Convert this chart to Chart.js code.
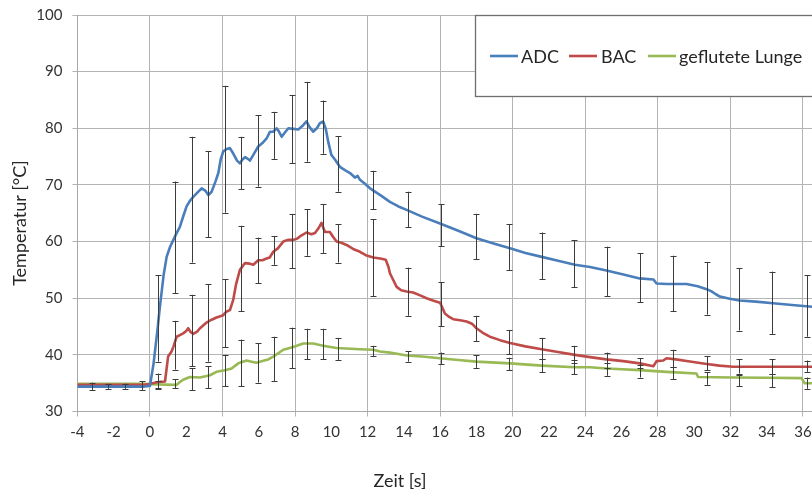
<!DOCTYPE html>
<html>
<head>
<meta charset="utf-8">
<script src="https://cdn.jsdelivr.net/npm/chart.js@4.4.1/dist/chart.umd.min.js"></script>
<style>
  html, body { margin: 0; padding: 0; background: #fff; }
  #wrap { width: 812px; height: 494px; position: relative; }
</style>
</head>
<body>
<div id="wrap"><canvas id="c" width="812" height="494"></canvas></div>
<script>
// Temperature curves (time in s, temperature in °C)
const adcTime = [-4, -2, -0.3, 0, 0.2, 0.4, 0.55, 0.75, 0.92, 1.1, 1.29, 1.47, 1.65, 1.85, 2.02, 2.2, 2.39, 2.6, 2.85, 3.05, 3.22, 3.4, 3.6, 3.77, 3.9, 4.04, 4.2, 4.41, 4.6, 4.8, 4.96, 5.1, 5.24, 5.4, 5.51, 5.7, 5.97, 6.2, 6.43, 6.62, 6.8, 6.98, 7.1, 7.26, 7.45, 7.63, 7.9, 8.18, 8.4, 8.63, 8.8, 9.0, 9.2, 9.37, 9.55, 9.7, 9.83, 10.0, 10.2, 10.47, 10.75, 11.03, 11.3, 11.45, 11.58, 11.85, 12.13, 12.7, 13.23, 13.7, 14.15, 15.0, 15.99, 17.0, 18.0, 18.9, 19.85, 20.7, 21.6, 22.5, 23.43, 24.26, 25.17, 26.1, 27.0, 27.76, 27.93, 28.5, 29.58, 30.2, 30.69, 30.96, 31.2, 31.42, 31.97, 32.5, 33.4, 34.36, 35.4, 36.5];
const adcTemp = [34.4, 34.4, 34.4, 34.5, 38.5, 44.0, 48.5, 54.0, 57.3, 59.0, 60.3, 61.5, 62.6, 64.6, 66.2, 67.2, 67.9, 68.6, 69.4, 69.0, 68.2, 68.8, 70.5, 72.1, 74.5, 75.9, 76.3, 76.5, 75.5, 74.3, 73.8, 74.5, 74.9, 74.6, 74.3, 75.3, 76.8, 77.4, 78.2, 79.4, 79.4, 80.0, 79.5, 78.5, 79.3, 80.0, 79.9, 79.8, 80.4, 81.2, 80.2, 79.4, 80.0, 80.9, 81.2, 79.8, 77.6, 75.3, 74.5, 73.2, 72.6, 72.1, 71.3, 71.6, 70.9, 70.2, 69.4, 68.2, 67.0, 66.2, 65.6, 64.4, 63.2, 61.9, 60.6, 59.7, 58.8, 58.0, 57.3, 56.6, 55.9, 55.5, 54.9, 54.2, 53.5, 53.3, 52.6, 52.5, 52.5, 52.1, 51.6, 51.2, 50.7, 50.3, 49.9, 49.6, 49.4, 49.1, 48.8, 48.5];

const bacTime = [-4, -0.3, 0, 0.5, 0.83, 1.0, 1.19, 1.3, 1.47, 1.65, 1.83, 2.0, 2.11, 2.25, 2.39, 2.6, 2.76, 3.12, 3.4, 3.67, 4.04, 4.2, 4.41, 4.59, 4.75, 4.96, 5.24, 5.5, 5.7, 5.97, 6.2, 6.43, 6.6, 6.8, 7.05, 7.35, 7.6, 7.9, 8.1, 8.27, 8.63, 8.9, 9.1, 9.28, 9.46, 9.55, 9.65, 9.92, 10.1, 10.29, 10.55, 10.84, 11.2, 11.58, 11.9, 12.31, 12.7, 13.0, 13.15, 13.23, 13.4, 13.6, 13.85, 14.15, 14.51, 14.9, 15.25, 15.6, 15.99, 16.1, 16.26, 16.5, 16.72, 17.1, 17.46, 17.75, 18.0, 18.35, 18.74, 19.3, 19.85, 20.7, 21.6, 22.5, 23.43, 24.26, 25.17, 26.1, 27.0, 27.76, 27.93, 28.3, 28.48, 29.0, 29.58, 30.69, 31.4, 32.15, 33.3, 34.36, 35.4, 36.5];
const bacTemp = [34.7, 34.7, 34.9, 35.2, 35.3, 39.7, 40.6, 41.5, 43.2, 43.5, 43.8, 44.2, 44.7, 44.0, 43.7, 44.1, 44.7, 45.7, 46.2, 46.6, 47.0, 47.6, 47.9, 49.7, 52.5, 55.0, 56.2, 56.1, 55.9, 56.7, 56.7, 57.0, 57.2, 58.2, 58.8, 60.0, 60.3, 60.3, 60.5, 60.9, 61.6, 61.3, 61.5, 62.3, 63.3, 62.5, 61.7, 61.7, 60.8, 60.0, 59.8, 59.4, 58.7, 58.2, 57.6, 57.2, 57.0, 56.8, 55.5, 54.4, 53.3, 52.0, 51.4, 51.2, 51.0, 50.5, 50.0, 49.6, 49.2, 48.5, 47.3, 46.7, 46.3, 46.1, 45.9, 45.5, 44.7, 43.9, 43.2, 42.6, 42.1, 41.5, 41.0, 40.5, 40.0, 39.6, 39.2, 38.9, 38.5, 38.0, 38.9, 39.0, 39.4, 39.2, 38.9, 38.4, 38.1, 37.9, 37.9, 37.9, 37.9, 37.9];

const lungTime = [-4, -0.3, 0, 1.47, 1.65, 1.83, 2.2, 2.76, 3.31, 3.67, 4.13, 4.5, 4.87, 5.33, 5.6, 5.88, 6.2, 6.52, 6.8, 7.35, 7.9, 8.45, 9.0, 9.55, 10.29, 11.58, 12.31, 12.68, 13.23, 14.15, 15.0, 15.99, 17.0, 18.0, 19.85, 21.6, 23.43, 24.26, 25.17, 27.0, 28.48, 30.13, 30.22, 32.15, 34.0, 35.92, 36.1, 36.5];
const lungTemp = [34.9, 34.9, 34.8, 34.7, 35.2, 35.6, 36.1, 36.0, 36.4, 37.0, 37.3, 37.6, 38.5, 39.0, 38.8, 38.6, 38.9, 39.2, 39.7, 40.9, 41.4, 42.0, 42.0, 41.6, 41.2, 41.0, 40.9, 40.6, 40.4, 39.9, 39.7, 39.4, 39.1, 38.8, 38.5, 38.1, 37.8, 37.8, 37.6, 37.3, 37.0, 36.7, 36.1, 36.0, 35.95, 35.9, 35.0, 35.0];

// Standard deviation ranges (time in s, lower and upper bound in °C)
const errTime  = [-3.22, -2.3, -1.38, -0.46, 0.46, 1.38, 2.3, 3.22, 4.13, 5.02, 5.94, 6.84, 7.81, 8.67, 9.55, 10.38, 12.31, 14.24, 16.05, 17.96, 19.79, 21.6, 23.39, 25.2, 27.04, 28.85, 30.69, 32.5, 34.3, 36.25];
const adcLow   = [33.8, 34.0, 34.0, 33.8, 38.8, 50.9, 56.3, 60.8, 65.1, 69.2, 69.7, 74.6, 73.8, 74.1, 75.5, 68.8, 65.7, 62.5, 59.2, 56.9, 55.0, 53.4, 51.9, 50.4, 49.3, 47.7, 47.1, 44.3, 43.7, 43.2];
const adcHigh  = [35.1, 34.9, 34.9, 35.3, 54.1, 70.6, 78.5, 76.0, 87.5, 78.5, 82.3, 82.9, 85.9, 88.2, 84.9, 78.6, 72.5, 68.8, 66.6, 64.9, 63.1, 61.6, 60.2, 59.1, 57.9, 57.5, 56.4, 55.3, 54.7, 54.1];
const bacLow   = [null, null, null, null, 33.9, 37.4, 38.0, 38.8, 41.3, 47.7, 52.6, 55.9, 55.3, 57.5, 58.0, 56.3, 50.4, 46.9, 45.1, 42.4, 40.1, 39.2, 38.6, 37.6, 37.6, 37.8, 37.3, 36.7, 36.6, 37.0];
const bacHigh  = [null, null, null, null, 36.7, 46.0, 50.6, 52.5, 53.4, 62.8, 60.7, 61.0, 64.9, 65.7, 66.6, 63.1, 63.9, 55.4, 52.8, 46.9, 44.4, 43.0, 41.6, 40.4, 39.4, 40.9, 39.8, 39.2, 39.2, 39.0];
const lungLow  = [null, null, null, null, 34.1, 34.1, 33.8, 34.1, 34.5, 34.5, 35.1, 35.4, 37.6, 39.2, 39.2, 39.1, 39.8, 38.8, 38.4, 37.7, 37.3, 36.9, 36.6, 36.3, 36.0, 35.7, 34.7, 34.5, 34.3, 34.0];
const lungHigh = [null, null, null, null, 35.3, 35.7, 37.6, 38.0, 40.0, 42.7, 42.1, 43.2, 44.8, 44.6, 44.6, 43.0, 41.6, 40.6, 40.4, 39.9, 39.5, 39.3, 39.1, 38.5, 38.2, 37.9, 36.9, 36.4, 36.7, 36.0];

// Axis ticks and labels
const xTicks = [-4, -2, 0, 2, 4, 6, 8, 10, 12, 14, 16, 18, 20, 22, 24, 26, 28, 30, 32, 34, 36];
const yTicks = [30, 40, 50, 60, 70, 80, 90, 100];
const seriesNames = ['ADC', 'BAC', 'geflutete Lunge'];
const seriesColors = ['#4a7ebb', '#be4b48', '#98b954'];
const xTitle = 'Zeit [s]';
const yTitle = 'Temperatur [°C]';

const FONT = 'Lato, "Open Sans", sans-serif';

function toPoints(xs, ys) { return xs.map((x, i) => ({ x: x, y: ys[i] })); }

// Error bars drawn through the chart scales
const errorBars = {
  id: 'errorBars',
  afterDatasetsDraw(chart) {
    const { ctx, scales: { x, y } } = chart;
    const ranges = [[adcLow, adcHigh], [bacLow, bacHigh], [lungLow, lungHigh]];
    ctx.save();
    ctx.strokeStyle = '#3c3c3c';
    ctx.lineWidth = 1;
    ranges.forEach(([lo, hi]) => {
      errTime.forEach((t, i) => {
        if (lo[i] == null || hi[i] == null) return;
        const px = Math.round(x.getPixelForValue(t)) + 0.5;
        const y1 = y.getPixelForValue(lo[i]);
        const y2 = y.getPixelForValue(hi[i]);
        ctx.beginPath();
        ctx.moveTo(px, y1); ctx.lineTo(px, y2);
        ctx.moveTo(px - 3, Math.round(y1) + 0.5); ctx.lineTo(px + 3, Math.round(y1) + 0.5);
        ctx.moveTo(px - 3, Math.round(y2) + 0.5); ctx.lineTo(px + 3, Math.round(y2) + 0.5);
        ctx.stroke();
      });
    });
    ctx.restore();
  }
};

// Boxed legend in the upper right corner
const boxLegend = {
  id: 'boxLegend',
  afterDraw(chart) {
    const ctx = chart.ctx;
    ctx.save();
    ctx.fillStyle = '#ffffff';
    ctx.fillRect(475, 15, 360, 81);
    ctx.strokeStyle = '#6e6e6e';
    ctx.lineWidth = 1.3;
    ctx.strokeRect(475.5, 15.5, 360, 81);
    const cy = 56;
    const items = [[490, 521], [569, 601], [648, 679]];
    ctx.font = '18px ' + FONT;
    ctx.textBaseline = 'middle';
    ctx.textAlign = 'left';
    items.forEach(([lx, tx], i) => {
      ctx.strokeStyle = seriesColors[i];
      ctx.lineWidth = 2.6;
      ctx.beginPath(); ctx.moveTo(lx, cy); ctx.lineTo(lx + 28, cy); ctx.stroke();
      ctx.fillStyle = '#262626';
      ctx.fillText(seriesNames[i], tx, cy + 1);
    });
    ctx.restore();
  }
};

// Axis titles
const axisTitles = {
  id: 'axisTitles',
  afterDraw(chart) {
    const ctx = chart.ctx;
    ctx.save();
    ctx.fillStyle = '#262626';
    ctx.font = '18px ' + FONT;
    ctx.textAlign = 'center';
    ctx.textBaseline = 'middle';
    ctx.fillText(xTitle, 400, 481);
    ctx.translate(20, 223);
    ctx.rotate(-Math.PI / 2);
    ctx.fillText(yTitle, 0, 0);
    ctx.restore();
  }
};

const lineStyle = (i) => ({
  borderColor: seriesColors[i],
  backgroundColor: seriesColors[i],
  borderWidth: 2.6,
  pointRadius: 0,
  tension: 0,
  borderJoinStyle: 'round',
  fill: false
});

new Chart(document.getElementById('c'), {
  type: 'line',
  data: {
    datasets: [
      Object.assign({ label: seriesNames[0], data: toPoints(adcTime, adcTemp) }, lineStyle(0)),
      Object.assign({ label: seriesNames[1], data: toPoints(bacTime, bacTemp) }, lineStyle(1)),
      Object.assign({ label: seriesNames[2], data: toPoints(lungTime, lungTemp) }, lineStyle(2))
    ]
  },
  options: {
    responsive: false,
    animation: false,
    devicePixelRatio: 1,
    layout: { padding: { top: 15, left: 0, right: 0, bottom: 0 } },
    plugins: { legend: { display: false }, tooltip: { enabled: false } },
    scales: {
      x: {
        type: 'linear',
        min: -4,
        max: 36.5,
        afterBuildTicks: (s) => { s.ticks = xTicks.map(v => ({ value: v })); },
        afterFit: (s) => { s.height = 82.5; s.paddingLeft = 0; s.paddingRight = 0; },
        ticks: {
          autoSkip: false, maxRotation: 0, padding: 7,
          color: '#333', font: { family: FONT, size: 15 }
        },
        grid: {
          color: (c) => (c.tick && c.tick.value % 4 === 0) ? '#b4b4b4' : 'rgba(0,0,0,0)',
          lineWidth: 1,
          tickLength: 5
        },
        border: { color: '#a8a8a8', width: 1 }
      },
      y: {
        min: 30,
        max: 100,
        afterBuildTicks: (s) => { s.ticks = yTicks.map(v => ({ value: v })); },
        afterFit: (s) => { s.width = 77.4; s.paddingTop = 0; s.paddingBottom = 0; },
        ticks: {
          padding: 10,
          color: '#333', font: { family: FONT, size: 15 }
        },
        grid: { color: '#b4b4b4', lineWidth: 1, tickLength: 5 },
        border: { color: '#a8a8a8', width: 1 }
      }
    }
  },
  plugins: [errorBars, boxLegend, axisTitles]
});
</script>
</body>
</html>
